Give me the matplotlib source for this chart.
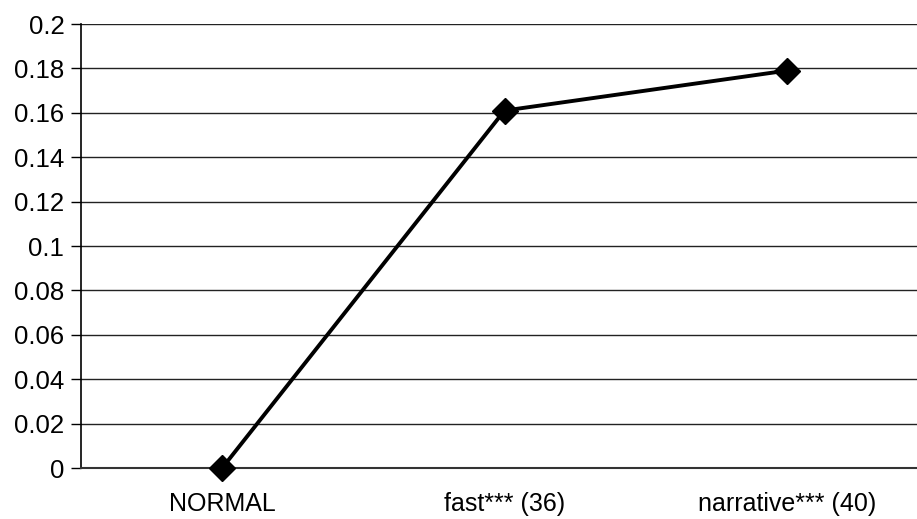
import matplotlib
matplotlib.use("Agg")
import matplotlib.pyplot as plt
from matplotlib.ticker import FuncFormatter

# ── Data ─────────────────────────────────────────────
categories = ["NORMAL", "fast*** (36)", "narrative*** (40)"]
values     = [0.0, 0.161, 0.179]
y_ticks    = [0, 0.02, 0.04, 0.06, 0.08, 0.1, 0.12, 0.14, 0.16, 0.18, 0.2]

plt.rcParams["font.family"] = ["Liberation Sans", "DejaVu Sans"]

fig = plt.figure(figsize=(9.17, 5.19), dpi=100)
# plot area runs past the right edge, as in the reference
ax = fig.add_axes([81 / 917, 1 - 468 / 519, 847 / 917, 444 / 519])

x = [i + 0.5 for i in range(len(categories))]
ax.plot(x, values, color="black", linewidth=2.8, marker="D",
        markersize=13, markerfacecolor="black", markeredgecolor="black",
        zorder=3, clip_on=False)

ax.set_xlim(0, len(categories))
ax.set_ylim(0, 0.2)
ax.set_yticks(y_ticks)
ax.yaxis.set_major_formatter(FuncFormatter(lambda v, p: f"{v:g}"))
ax.set_xticks(x)
ax.set_xticklabels(categories)
ax.tick_params(axis="x", length=0, pad=17, labelsize=18)
ax.tick_params(axis="y", length=7, width=1, direction="out",
               pad=5, labelsize=18.5, color="black")

ax.grid(True, axis="y", color="#222222", linewidth=1)
ax.set_axisbelow(True)
for s in ["top", "right"]:
    ax.spines[s].set_visible(False)
ax.spines["left"].set_color("black")
ax.spines["left"].set_linewidth(1.2)
ax.spines["bottom"].set_color("#333333")
ax.spines["bottom"].set_linewidth(1.5)

fig.savefig("out.png", dpi=100, facecolor="white")
